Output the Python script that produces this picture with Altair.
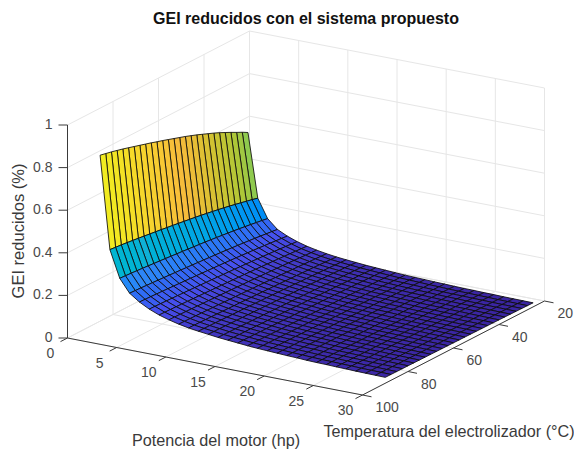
import altair as alt

# ---- values ----
motor_hp = list(range(1, 31))
temperature = [25 + 2.5 * i for i in range(27)]
z_at_first_row = [0.560, 0.575, 0.588, 0.602, 0.615, 0.628, 0.640, 0.651, 0.662,
                  0.673, 0.683, 0.693, 0.702, 0.711, 0.720, 0.729, 0.737, 0.746,
                  0.754, 0.762, 0.770, 0.778, 0.786, 0.793, 0.800, 0.806, 0.812]
row_falloff = [1, .465, .31, .235, .195, .165, .142, .125, .111, .1, .092, .085, .078,
               .073, .068, .063, .059, .056, .053, .05, .048, .045, .043, .042, .04,
               .039, .037, .036, .035, .034]
x_ticks = [0, 5, 10, 15, 20, 25, 30]
t_ticks = [20, 40, 60, 80, 100]
z_ticks = [0, 0.2, 0.4, 0.6, 0.8, 1]
parula = ["#3a24a0", "#4650ee", "#2d87f7", "#12b1d6", "#37c897", "#abc739", "#f6bb3c", "#f0ee20"]

W, H = 566, 442
OFF = 8
def px(a, b):
    return (a - OFF, b - OFF)
def project(x, t, z):
    """Orthographic view fixed by the box corners of the axes cube."""
    u, v = x / 30, (100 - t) / 80
    return px(67.5 + 295 * u + 182 * v, 338 + 57 * u - 94 * v - 213 * z)

# surface faces, far rows first
features = []
for i in range(len(motor_hp) - 1):
    for j in range(len(temperature) - 1):
        zz = lambda a, b: z_at_first_row[b] * row_falloff[a]
        ring = [project(motor_hp[i], temperature[j], zz(i, j)),
                project(motor_hp[i + 1], temperature[j], zz(i + 1, j)),
                project(motor_hp[i + 1], temperature[j + 1], zz(i + 1, j + 1)),
                project(motor_hp[i], temperature[j + 1], zz(i, j + 1))]
        ring.append(ring[0])
        features.append({"type": "Feature", "properties": {"z": zz(i, j)},
                         "geometry": {"type": "Polygon",
                                      "coordinates": [[list(p) for p in ring]]}})

def seg(a, b):
    return {"x": a[0], "y": a[1], "x2": b[0], "y2": b[1]}

grid = []
for x in x_ticks:
    grid.append(seg(project(x, 100, 0), project(x, 20, 0)))
    grid.append(seg(project(x, 20, 0), project(x, 20, 1)))
for t in t_ticks:
    grid.append(seg(project(0, t, 0), project(30, t, 0)))
    grid.append(seg(project(0, t, 0), project(0, t, 1)))
for z in z_ticks:
    grid.append(seg(project(0, 100, z), project(0, 20, z)))
    grid.append(seg(project(0, 20, z), project(30, 20, z)))

axes = [seg(project(0, 100, 0), project(0, 100, 1)),
        seg(project(0, 100, 0), project(30, 100, 0)),
        seg(project(30, 100, 0), project(30, 20, 0))]
for x in x_ticks:
    p = project(x, 100, 0)
    axes.append(seg(p, (p[0] - 7, p[1] + 3.6)))
for t in t_ticks:
    p = project(30, t, 0)
    axes.append(seg(p, (p[0] + 9, p[1] + 1.8)))
for z in z_ticks:
    p = project(0, 100, z)
    axes.append(seg(p, (p[0] - 9, p[1])))

x_labels = []
for x in x_ticks:
    p = project(x, 100, 0)
    x_labels.append({"x": p[0] - 17, "y": p[1] + 16, "s": str(x)})
t_labels = []
for t in t_ticks:
    p = project(30, t, 0)
    t_labels.append({"x": p[0] + 13, "y": p[1] + 13, "s": str(t)})
z_labels = []
for z in z_ticks:
    p = project(0, 100, z)
    z_labels.append({"x": p[0] - 15, "y": p[1], "s": f"{z:g}"})

def title_row(a, b, s):
    p = px(a, b)
    return [{"x": p[0], "y": p[1], "s": s}]

FONT = "Liberation Sans"
xs = alt.X("x:Q", scale=alt.Scale(domain=[0, W], range=[0, W]), axis=None)
ys = alt.Y("y:Q", scale=alt.Scale(domain=[0, H], range=[0, H]), axis=None)
def rules(rows, **kw):
    return alt.Chart(alt.Data(values=rows)).mark_rule(**kw).encode(xs, ys, x2="x2:Q", y2="y2:Q")
def labels(rows, **kw):
    return alt.Chart(alt.Data(values=rows)).mark_text(font=FONT, baseline="middle", **kw).encode(xs, ys, text="s:N")

n = len(parula) - 1
surface = alt.Chart(alt.Data(values=features)).mark_geoshape(
    stroke="#0c0c0c", strokeWidth=1, strokeOpacity=0.85
).encode(
    color=alt.Color("properties.z:Q", legend=None,
                    scale=alt.Scale(domain=[0.019 + 0.793 * i / n for i in range(n + 1)], range=parula))
).project(type="identity", scale=1, translate=[0, 0])

chart = alt.layer(
    rules(grid, color="#e6e6e6", strokeWidth=1),
    surface,
    rules(axes, color="#3a3a3a", strokeWidth=1),
    labels(x_labels, fontSize=14, color="#4a4a4a", align="center"),
    labels(t_labels, fontSize=14, color="#4a4a4a", align="left"),
    labels(z_labels, fontSize=14, color="#4a4a4a", align="right"),
    labels(title_row(306, 19, "GEI reducidos con el sistema propuesto"),
           fontSize=16, fontWeight="bold", color="#111111", align="center"),
    labels(title_row(216, 441, "Potencia del motor (hp)"),
           fontSize=16.2, color="#3a3a3a", align="center"),
    labels(title_row(449, 432, "Temperatura del electrolizador (°C)"),
           fontSize=16.2, color="#3a3a3a", align="center"),
    labels(title_row(19, 231, "GEI reducidos (%)"),
           fontSize=16.5, color="#3a3a3a", align="center", angle=270),
).properties(width=W, height=H, padding=0, autosize=alt.AutoSizeParams(type="none"),
             background="white").configure_view(stroke=None)

chart.save("out.html", embed_options={"renderer": "svg", "actions": False})
